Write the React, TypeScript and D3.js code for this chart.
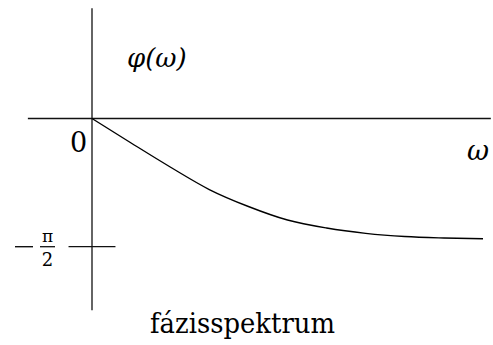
import React from "react";
import * as d3 from "d3";

// Phase spectrum samples: frequency ω and phase φ(ω) in radians
const omega = [0, 1, 2, 3, 4, 5, 6, 7, 8, 9, 10];
const phase = [0, -0.3, -0.594, -0.87, -1.078, -1.244, -1.342, -1.407, -1.446, -1.464, -1.474];

// Axis extents in data units
const omegaAxis = [-1.64, 10.2];
const phiAxis = [1.35, -2.35];
const tickPhi = -Math.PI / 2;

const W = 493;
const H = 345;

export default function App() {
  const x = d3.scaleLinear().domain([0, 10]).range([92, 483]);
  const y = d3.scaleLinear().domain([0, -Math.PI / 2]).range([118.5, 246.7]);

  const pts: [number, number][] = omega.map((w, i) => [w, phase[i]]);
  const line = d3
    .line<[number, number]>()
    .x((d) => x(d[0]))
    .y((d) => y(d[1]))
    .curve(d3.curveMonotoneX);

  const fontStyle = { fontFamily: "'DejaVu Serif', 'Liberation Serif', serif" };

  return (
    <svg
      width={W}
      height={H}
      style={{ position: "absolute", left: 0, top: 0, background: "#fff" }}
    >
      {/* axes */}
      <line x1={x(omegaAxis[0])} x2={x(omegaAxis[1])} y1={y(0)} y2={y(0)} stroke="#111" strokeWidth={1.3} />
      <line x1={x(0)} x2={x(0)} y1={y(phiAxis[0])} y2={y(phiAxis[1])} stroke="#111" strokeWidth={1.3} />
      {/* -π/2 tick */}
      <line x1={x(-0.6)} x2={x(0.6)} y1={y(tickPhi)} y2={y(tickPhi)} stroke="#111" strokeWidth={1.3} />

      {/* phase curve */}
      <path d={line(pts) || ""} fill="none" stroke="#000" strokeWidth={1.4} />

      {/* labels */}
      <text x={127} y={67} style={fontStyle} fontSize={26} fontStyle="italic">
        φ(ω)
      </text>
      <text x={70} y={152} style={fontStyle} fontSize={27}>
        0
      </text>
      <text x={467} y={160} style={fontStyle} fontSize={27} fontStyle="italic">
        ω
      </text>
      {/* −π/2 */}
      <line x1={15} x2={33} y1={y(tickPhi)} y2={y(tickPhi)} stroke="#111" strokeWidth={1.4} />
      <text x={47.5} y={242} style={fontStyle} fontSize={17} textAnchor="middle">
        π
      </text>
      <line x1={40} x2={55} y1={y(tickPhi)} y2={y(tickPhi)} stroke="#111" strokeWidth={1.3} />
      <text x={47.5} y={266} style={fontStyle} fontSize={18} textAnchor="middle">
        2
      </text>
      <text x={150} y={333} style={fontStyle} fontSize={27} textLength={185} lengthAdjust="spacingAndGlyphs">
        fázisspektrum
      </text>
    </svg>
  );
}
